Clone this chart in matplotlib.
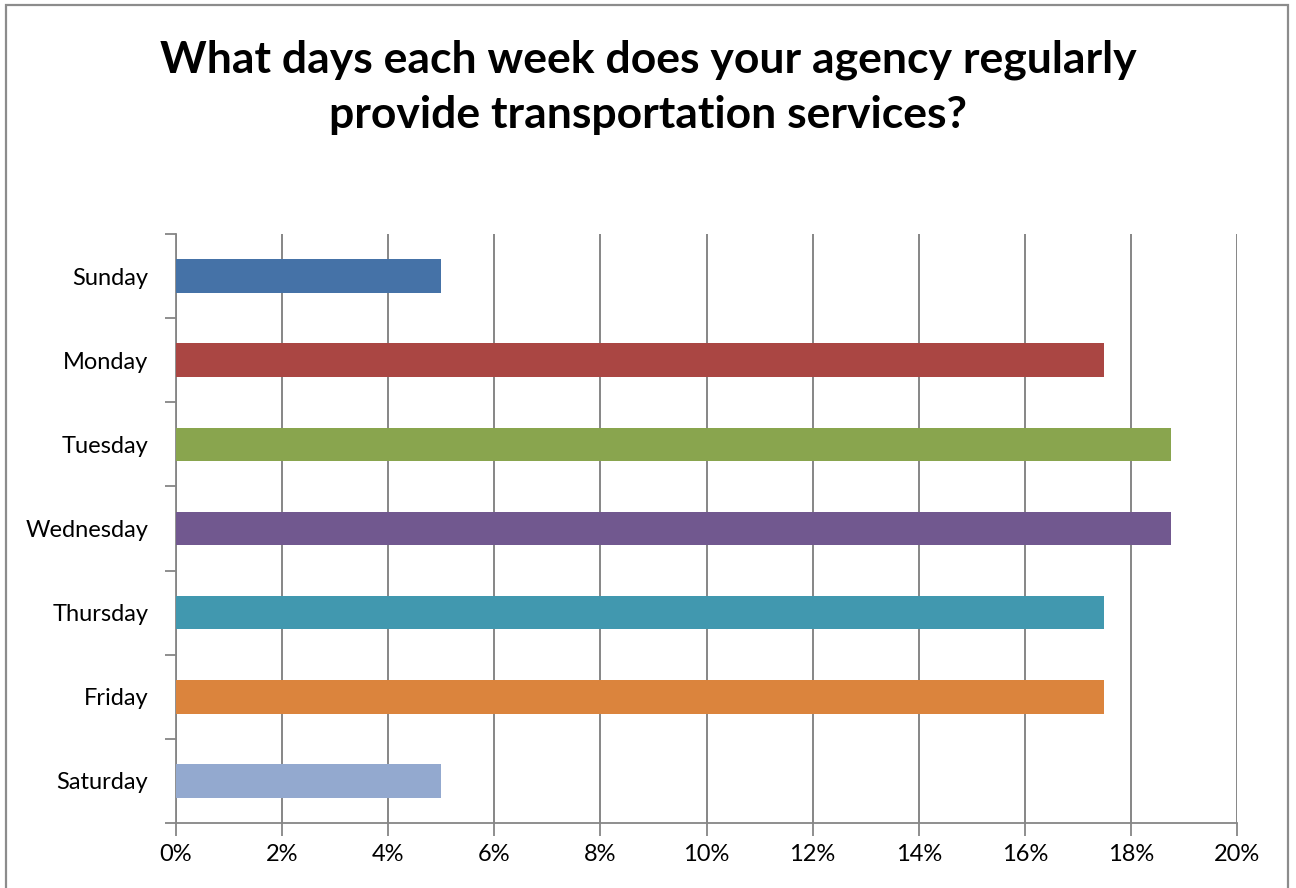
import matplotlib
matplotlib.use("Agg")
import matplotlib.pyplot as plt
from matplotlib.patches import Rectangle
from matplotlib.ticker import FuncFormatter, MultipleLocator

days = ["Sunday", "Monday", "Tuesday", "Wednesday", "Thursday", "Friday", "Saturday"]
values = [5.0, 17.5, 18.75, 18.75, 17.5, 17.5, 5.0]
colors = ["#4572A7", "#AA4643", "#89A54E", "#71588F", "#4198AF", "#DB843D", "#93A9CF"]
title_lines = ["What days each week does your agency regularly",
               "provide transportation services?"]

plt.rcParams['font.family'] = ['Lato', 'DejaVu Sans']

W, H = 1296, 888
fig = plt.figure(figsize=(W / 100, H / 100), dpi=100)
fig.patch.set_facecolor("white")
fig.patches.append(Rectangle((6 / W, -0.02), (1288 - 6) / W, 1.02 - 5 / H,
                             transform=fig.transFigure, fill=False,
                             edgecolor="#8c8c8c", linewidth=1.6, clip_on=False))

ax = fig.add_axes([176 / W, 1 - 823 / H, (1237 - 176) / W, (823 - 234) / H])
y = list(range(len(days)))
ax.barh(y, values, height=0.4, color=colors, zorder=3)
ax.set_ylim(len(days) - 0.5, -0.5)
ax.set_xlim(0, 20)
ax.xaxis.set_major_locator(MultipleLocator(2))
ax.xaxis.set_major_formatter(FuncFormatter(lambda v, p: f"{v:.0f}%"))
ax.set_yticks(y)
ax.set_yticklabels(days)
ax.set_yticks([i - 0.5 for i in range(len(days) + 1)], minor=True)
ax.tick_params(axis='y', which='major', length=0, pad=20, labelsize=17)
ax.tick_params(axis='y', which='minor', length=8, width=1.3, color="#868686", direction='out')
ax.tick_params(axis='x', which='major', length=9, width=1.3, color="#868686", labelsize=17, pad=6)
ax.grid(axis='x', color="#868686", linewidth=1.4, zorder=0)
for s in ["top", "right"]:
    ax.spines[s].set_visible(False)
for s in ["left", "bottom"]:
    ax.spines[s].set_color("#868686")
    ax.spines[s].set_linewidth(1.3)

fig.text(0.5, 1 - 72 / H, title_lines[0], ha='center', va='baseline', fontsize=32,
         fontweight='bold')
fig.text(0.5, 1 - 128 / H, title_lines[1], ha='center', va='baseline', fontsize=32,
         fontweight='bold')

fig.savefig("out.png", dpi=100)
